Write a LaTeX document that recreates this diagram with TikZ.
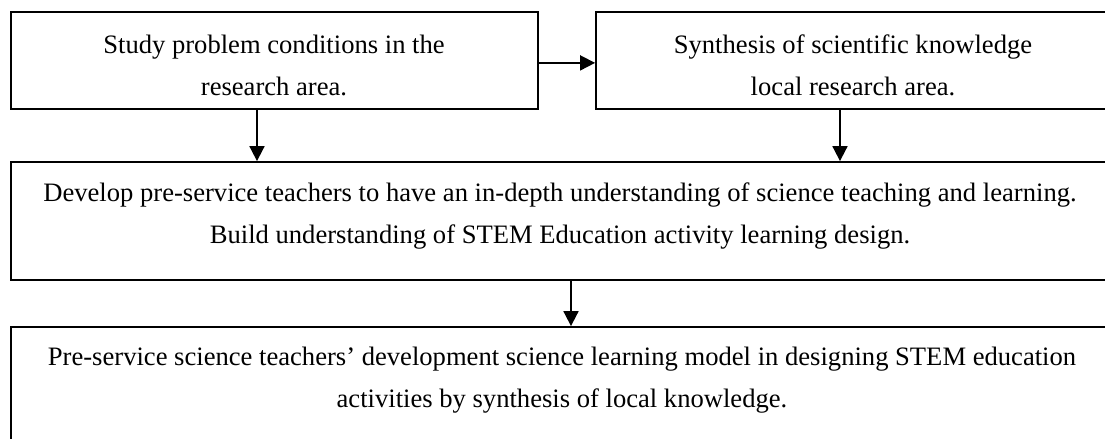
\documentclass[tikz,border=0pt]{standalone}
\usepackage{fontspec}
\setmainfont{Liberation Serif}
\usetikzlibrary{arrows.meta}
\begin{document}
\begin{tikzpicture}[x=0.5pt, y=-0.5pt, >={Triangle[length=7.5pt, width=7.5pt]},
    box/.style={draw, line width=0.9pt, inner sep=0pt},
    lbl/.style={align=center, inner sep=0pt, anchor=north, font=\fontsize{13.3}{21}\selectfont}]
    % Frame of the picture
    \clip (0,0) rectangle (1105,439);

    % Boxes
    \node[box, minimum width=263.5pt, minimum height=48.5pt] (study) at (274.5,60.5) {};
    \node[box, minimum width=257pt, minimum height=48.5pt] (synth) at (853,60.5) {};
    \node[box, minimum width=549.5pt, minimum height=59pt] (dev) at (560.5,221) {};
    \node[box, minimum width=549.5pt, minimum height=66.5pt] (model) at (560.5,393.5) {};

    % Texts of the boxes
    \node[lbl] (study-txt) at (274,23.6) {\strut Study problem conditions in the\\ research area.};
    \node[lbl] (synth-txt) at (853,23.6) {\strut Synthesis of scientific knowledge\\ local research area.};
    \node[lbl] (dev-txt) at (560,171.6) {\strut Develop pre-service teachers to have an in-depth understanding of science teaching and learning.\\ Build understanding of STEM Education activity learning design.};
    \node[lbl] (model-txt) at (562,335.6) {\strut Pre-service science teachers' development science learning model in designing STEM education\\ activities by synthesis of local knowledge.};

    % Arrows
    \draw[->, line width=0.9pt] ([yshift=-1.2pt]study.east) -- ([yshift=-1.2pt]synth.west);
    \draw[->, line width=0.9pt] ([xshift=-8.75pt]study.south) -- ([xshift=-8.75pt]study.south |- dev.north);
    \draw[->, line width=0.9pt] ([xshift=-6.5pt]synth.south) -- ([xshift=-6.5pt]synth.south |- dev.north);
    \draw[->, line width=0.9pt] ([xshift=5.25pt]dev.south) -- ([xshift=5.25pt]dev.south |- model.north);
\end{tikzpicture}
\end{document}
